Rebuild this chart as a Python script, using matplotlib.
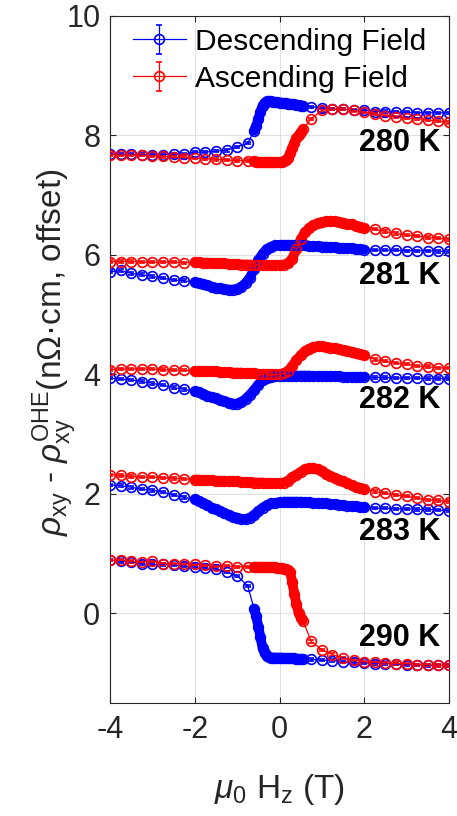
import numpy as np
import matplotlib
matplotlib.use("Agg")
import matplotlib.pyplot as plt

plt.rcParams['font.family'] = ['Liberation Sans', 'DejaVu Sans']
plt.rcParams['mathtext.fontset'] = 'custom'
plt.rcParams['mathtext.rm'] = 'Liberation Sans'
plt.rcParams['mathtext.it'] = 'Liberation Sans:italic'
plt.rcParams['mathtext.bf'] = 'Liberation Sans:bold'
plt.rcParams['axes.unicode_minus'] = False

# field sweeps (T): 281-283 K have the fine steps between -2 and 2 T,
# 280 K and 290 K only around the switching field
field_a = [-4.0, -3.75, -3.5, -3.25, -3.0, -2.75, -2.5, -2.25,
           -2.0, -1.9, -1.8, -1.7, -1.6, -1.5, -1.4, -1.3, -1.2, -1.1, -1.0,
           -0.9, -0.8, -0.7, -0.6, -0.5, -0.4, -0.3, -0.2, -0.1, 0.0,
           0.1, 0.2, 0.3, 0.4, 0.5, 0.6, 0.7, 0.8, 0.9, 1.0,
           1.1, 1.2, 1.3, 1.4, 1.5, 1.6, 1.7, 1.8, 1.9, 2.0,
           2.25, 2.5, 2.75, 3.0, 3.25, 3.5, 3.75, 4.0]
field_b = [-4.0, -3.75, -3.5, -3.25, -3.0, -2.75, -2.5, -2.25, -2.0, -1.75,
           -1.5, -1.25, -1.0, -0.75,
           -0.6, -0.55, -0.5, -0.45, -0.4, -0.35, -0.3, -0.25, -0.2, -0.15,
           -0.1, -0.05, 0.0, 0.05, 0.1, 0.15, 0.2, 0.25, 0.3, 0.35, 0.4,
           0.45, 0.5, 0.55,
           0.75, 1.0, 1.25, 1.5, 1.75, 2.0, 2.25, 2.5, 2.75, 3.0, 3.25, 3.5,
           3.75, 4.0]
fine_a = (-2.0, 2.0)
fine_b = (-0.6, 0.55)

desc_280 = [7.69, 7.69, 7.69, 7.68, 7.68, 7.68, 7.69, 7.69, 7.72, 7.72, 7.74, 7.75, 7.81, 7.87,
            8.08, 8.16, 8.27, 8.40, 8.50, 8.55, 8.57, 8.57, 8.57, 8.56, 8.56, 8.56,
            8.55, 8.55, 8.54, 8.54, 8.53, 8.53, 8.52, 8.52, 8.51, 8.51, 8.50, 8.50,
            8.48, 8.46, 8.44, 8.44, 8.43, 8.42, 8.40, 8.40, 8.39, 8.39, 8.38, 8.38, 8.38, 8.38]
asc_280 = [7.68, 7.67, 7.67, 7.67, 7.66, 7.65, 7.64, 7.63, 7.62, 7.61, 7.60, 7.59, 7.58, 7.58,
           7.57, 7.56, 7.56, 7.55, 7.55, 7.55, 7.55, 7.55, 7.55, 7.55, 7.55, 7.55,
           7.55, 7.56, 7.57, 7.59, 7.63, 7.70, 7.79, 7.88, 7.95, 8.00, 8.05, 8.10,
           8.28, 8.42, 8.44, 8.44, 8.42, 8.39, 8.36, 8.33, 8.31, 8.29, 8.28, 8.26, 8.24, 8.22]

desc_281 = [5.72, 5.74, 5.69, 5.67, 5.64, 5.61, 5.58, 5.57,
            5.54, 5.53, 5.51, 5.49, 5.47, 5.45, 5.44, 5.43, 5.42, 5.42, 5.43,
            5.47, 5.53, 5.62, 5.76, 5.91, 6.02, 6.10, 6.14, 6.16, 6.17,
            6.17, 6.17, 6.17, 6.16, 6.16, 6.16, 6.15, 6.15, 6.15, 6.14,
            6.14, 6.13, 6.13, 6.12, 6.12, 6.11, 6.11, 6.10, 6.10, 6.09,
            6.08, 6.08, 6.08, 6.07, 6.07, 6.07, 6.06, 6.06]
asc_281 = [5.89, 5.89, 5.89, 5.88, 5.88, 5.88, 5.88, 5.87,
           5.88, 5.88, 5.87, 5.87, 5.87, 5.86, 5.86, 5.86, 5.85, 5.85, 5.85,
           5.84, 5.84, 5.84, 5.83, 5.83, 5.83, 5.83, 5.83, 5.83, 5.83,
           5.84, 5.86, 5.94, 6.10, 6.26, 6.38, 6.45, 6.50, 6.53, 6.55,
           6.56, 6.56, 6.56, 6.55, 6.54, 6.52, 6.51, 6.49, 6.47, 6.45,
           6.43, 6.39, 6.36, 6.33, 6.32, 6.29, 6.28, 6.26]

desc_282 = [3.94, 3.92, 3.91, 3.88, 3.85, 3.82, 3.78, 3.75,
            3.72, 3.70, 3.67, 3.64, 3.62, 3.60, 3.57, 3.55, 3.53, 3.51, 3.51,
            3.54, 3.59, 3.66, 3.74, 3.83, 3.90, 3.94, 3.96, 3.97, 3.98,
            3.98, 3.98, 3.98, 3.98, 3.98, 3.98, 3.98, 3.97, 3.97, 3.97,
            3.97, 3.97, 3.97, 3.97, 3.96, 3.96, 3.96, 3.96, 3.96, 3.96,
            3.95, 3.95, 3.94, 3.94, 3.94, 3.93, 3.93, 3.93]
asc_282 = [4.08, 4.09, 4.09, 4.09, 4.09, 4.08, 4.07, 4.07,
           4.06, 4.06, 4.06, 4.05, 4.05, 4.05, 4.04, 4.04, 4.04, 4.03, 4.03,
           4.03, 4.02, 4.02, 4.02, 4.01, 4.01, 4.01, 4.00, 4.00, 4.00,
           4.02, 4.06, 4.14, 4.24, 4.32, 4.39, 4.43, 4.46, 4.47, 4.47,
           4.46, 4.45, 4.44, 4.42, 4.41, 4.40, 4.38, 4.36, 4.34, 4.32,
           4.25, 4.22, 4.19, 4.17, 4.14, 4.13, 4.11, 4.11]

desc_283 = [2.15, 2.14, 2.11, 2.08, 2.06, 2.03, 1.98, 1.94,
            1.91, 1.88, 1.84, 1.81, 1.77, 1.74, 1.71, 1.68, 1.65, 1.62, 1.60,
            1.58, 1.58, 1.60, 1.65, 1.71, 1.77, 1.81, 1.84, 1.85, 1.86,
            1.87, 1.87, 1.87, 1.87, 1.87, 1.86, 1.86, 1.85, 1.85, 1.84,
            1.84, 1.83, 1.83, 1.82, 1.81, 1.80, 1.80, 1.79, 1.78, 1.78,
            1.76, 1.76, 1.75, 1.75, 1.74, 1.74, 1.73, 1.72]
asc_283 = [2.32, 2.31, 2.29, 2.28, 2.28, 2.27, 2.26, 2.25,
           2.24, 2.24, 2.23, 2.23, 2.23, 2.22, 2.22, 2.22, 2.21, 2.21, 2.21,
           2.20, 2.20, 2.20, 2.19, 2.19, 2.19, 2.18, 2.18, 2.18, 2.18,
           2.19, 2.22, 2.28, 2.32, 2.37, 2.41, 2.43, 2.43, 2.41, 2.38,
           2.34, 2.30, 2.27, 2.24, 2.21, 2.18, 2.15, 2.12, 2.10, 2.08,
           2.04, 2.01, 1.98, 1.96, 1.93, 1.90, 1.89, 1.87]

desc_290 = [0.89, 0.87, 0.86, 0.83, 0.82, 0.82, 0.81, 0.79, 0.78, 0.76, 0.74, 0.69, 0.63, 0.46,
            0.08, -0.05, -0.22, -0.40, -0.58, -0.67, -0.71, -0.73, -0.74, -0.74, -0.74, -0.74,
            -0.74, -0.74, -0.75, -0.75, -0.75, -0.75, -0.75, -0.75, -0.76, -0.76, -0.76, -0.76,
            -0.77, -0.78, -0.79, -0.81, -0.82, -0.83, -0.84, -0.84, -0.85, -0.86, -0.86, -0.87, -0.87, -0.87]
asc_290 = [0.89, 0.89, 0.87, 0.86, 0.88, 0.83, 0.83, 0.83, 0.82, 0.81, 0.79, 0.79, 0.78, 0.78,
           0.78, 0.78, 0.78, 0.78, 0.78, 0.78, 0.77, 0.77, 0.77, 0.77, 0.77, 0.76,
           0.76, 0.76, 0.75, 0.74, 0.72, 0.70, 0.52, 0.33, 0.15, 0.01, -0.07, -0.12,
           -0.47, -0.61, -0.69, -0.75, -0.78, -0.81, -0.82, -0.83, -0.84, -0.84, -0.86, -0.86, -0.87, -0.87]

temps = ['280 K', '281 K', '282 K', '283 K', '290 K']
label_y = [7.87, 5.64, 3.58, 1.36, -0.42]
curves = [(field_b, fine_b, desc_280, asc_280),
          (field_a, fine_a, desc_281, asc_281),
          (field_a, fine_a, desc_282, asc_282),
          (field_a, fine_a, desc_283, asc_283),
          (field_b, fine_b, desc_290, asc_290)]
err = 0.02

fig = plt.figure(figsize=(4.57, 8.16), dpi=100)
ax = fig.add_axes([0.2407, 0.1385, 0.7418, 0.8419])

handles = []
for i, (h, fine, d, a) in enumerate(curves):
    h = np.array(h)
    sel = (h >= fine[0] - 1e-9) & (h <= fine[1] + 1e-9)
    for vals, col in ((d, 'b'), (a, 'r')):
        vals = np.array(vals)
        # the many fine-step points merge into a solid band
        ax.plot(h[sel], vals[sel], color=col, lw=7, solid_capstyle='round', zorder=2)
        eb = ax.errorbar(h, vals, yerr=err, fmt='-o', color=col, mfc='none', ms=7,
                         mew=1.2, lw=0.9, elinewidth=0.9, capsize=2.5, zorder=3)
        if i == 0:
            handles.append(eb)

for t, yy in zip(temps, label_y):
    ax.text(3.8, yy, t, ha='right', va='center', fontsize=22, fontweight='bold', color='k')

ax.set_xlim(-4, 4)
ax.set_ylim(-1.5, 10)
ax.set_xticks([-4, -2, 0, 2, 4])
ax.set_yticks([0, 2, 4, 6, 8, 10])
ax.grid(True, color='#e0e0e0', lw=0.8, zorder=0)
ax.set_axisbelow(True)
ax.tick_params(direction='in', top=True, right=True, length=4, width=0.8,
               labelsize=22, colors='#262626', labelcolor='#262626')
ax.tick_params(axis='x', pad=8.5)
ax.tick_params(axis='y', pad=7)
for s in ax.spines.values():
    s.set_color('#262626')
    s.set_linewidth(0.8)

ax.set_xlabel(r'$\mu_{\rm 0}$ H$_{\rm z}$ (T)', fontsize=24, color='#262626')
ax.xaxis.set_label_coords(0.5, -0.1)
ax.set_ylabel(r'$\rho_{\rm xy}$ - $\rho_{\rm xy}^{\rm OHE}$(n$\Omega$·cm, offset)',
              fontsize=24, color='#262626')
ax.yaxis.set_label_coords(-0.09, 0.51)

ax.legend(handles, ['Descending Field', 'Ascending Field'], loc='upper center',
          frameon=False, fontsize=21.5, handlelength=1.8, handletextpad=0.3,
          borderaxespad=0.0, labelspacing=0.3)

fig.savefig('out.png', dpi=100)
